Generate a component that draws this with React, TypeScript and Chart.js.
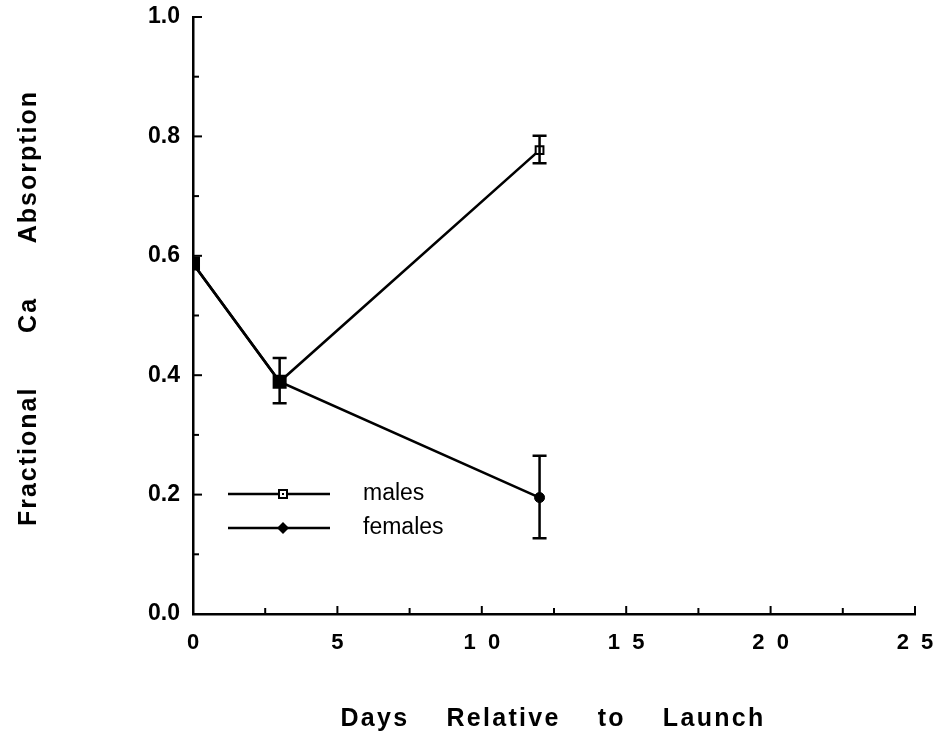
import React, { useEffect, useRef } from "react";
import { Chart, registerables } from "chart.js";

Chart.register(...registerables);

const xValues = [0, 3, 12];
const malesMean = [0.587, 0.389, 0.777];
const malesLow: (number | null)[] = [null, 0.353, 0.755];
const malesHigh: (number | null)[] = [null, 0.429, 0.801];
const femalesMean = [0.587, 0.389, 0.195];
const femalesLow: (number | null)[] = [null, null, 0.127];
const femalesHigh: (number | null)[] = [null, null, 0.265];
const xTitle = "Days    Relative    to    Launch";
const yTitle = "Fractional      Ca      Absorption";
const legendLabels = ["males", "females"];

const FONT = "'Liberation Sans', Arial, Helvetica, sans-serif";

const decorPlugin = {
  id: "decor",
  afterDatasetsDraw(chart: any) {
    const ctx = chart.ctx;
    const xs = chart.scales.x;
    const ys = chart.scales.y;
    ctx.save();
    ctx.strokeStyle = "#000";
    ctx.fillStyle = "#000";
    const drawErr = (lo: (number | null)[], hi: (number | null)[]) => {
      xValues.forEach((xv, i) => {
        const l = lo[i], h = hi[i];
        if (l == null || h == null) return;
        const px = xs.getPixelForValue(xv);
        const pl = ys.getPixelForValue(l);
        const ph = ys.getPixelForValue(h);
        ctx.lineWidth = 2.5;
        ctx.beginPath();
        ctx.moveTo(px, pl);
        ctx.lineTo(px, ph);
        ctx.moveTo(px - 7, pl);
        ctx.lineTo(px + 7, pl);
        ctx.moveTo(px - 7, ph);
        ctx.lineTo(px + 7, ph);
        ctx.stroke();
      });
    };
    drawErr(malesLow, malesHigh);
    drawErr(femalesLow, femalesHigh);
    ctx.restore();
  },
  afterDraw(chart: any) {
    const ctx = chart.ctx;
    const xs = chart.scales.x;
    const ys = chart.scales.y;
    const area = chart.chartArea;
    ctx.save();
    ctx.strokeStyle = "#000";
    ctx.fillStyle = "#000";
    ctx.lineWidth = 2;
    for (let v = 2.5; v <= 25.001; v += 2.5) {
      const major = Math.abs(v / 5 - Math.round(v / 5)) < 1e-6;
      const px = xs.getPixelForValue(v);
      ctx.beginPath();
      ctx.moveTo(px, area.bottom);
      ctx.lineTo(px, area.bottom - (major ? 8 : 6));
      ctx.stroke();
    }
    for (let v = 0.1; v <= 1.0001; v += 0.1) {
      const major = Math.abs(v / 0.2 - Math.round(v / 0.2)) < 1e-6;
      const py = ys.getPixelForValue(v);
      ctx.beginPath();
      ctx.moveTo(area.left, py);
      ctx.lineTo(area.left + (major ? 9 : 6), py);
      ctx.stroke();
    }
    // legend
    const lx1 = 228, lx2 = 330, mx = 283;
    const ly = [494, 528];
    ctx.lineWidth = 2.5;
    ly.forEach((y) => {
      ctx.beginPath();
      ctx.moveTo(lx1, y);
      ctx.lineTo(lx2, y);
      ctx.stroke();
    });
    ctx.fillStyle = "#fff";
    ctx.fillRect(mx - 5, ly[0] - 5, 10, 10);
    ctx.lineWidth = 2;
    ctx.strokeRect(mx - 4, ly[0] - 4, 8, 8);
    ctx.fillStyle = "#000";
    ctx.fillRect(mx - 1, ly[0] - 1, 2, 2);
    ctx.beginPath();
    ctx.moveTo(mx, ly[1] - 6);
    ctx.lineTo(mx + 6, ly[1]);
    ctx.lineTo(mx, ly[1] + 6);
    ctx.lineTo(mx - 6, ly[1]);
    ctx.closePath();
    ctx.fill();
    ctx.font = `23px ${FONT}`;
    ctx.textAlign = "left";
    ctx.textBaseline = "middle";
    ctx.fillText(legendLabels[0], 363, ly[0]);
    ctx.fillText(legendLabels[1], 363, ly[1]);
    // axis titles
    ctx.font = `bold 25px ${FONT}`;
    (ctx as any).letterSpacing = "2.3px";
    ctx.textAlign = "center";
    ctx.textBaseline = "alphabetic";
    ctx.fillText(xTitle, 553, 726);
    ctx.save();
    ctx.translate(36, 308);
    ctx.rotate(-Math.PI / 2);
    (ctx as any).letterSpacing = "2px";
    ctx.fillText(yTitle, 0, 0);
    ctx.restore();
    ctx.restore();
  },
};

export default function App() {
  const ref = useRef<HTMLCanvasElement | null>(null);
  useEffect(() => {
    if (!ref.current) return;
    const chart = new Chart(ref.current, {
      type: "line",
      data: {
        datasets: [
          {
            label: legendLabels[0],
            data: xValues.map((x, i) => ({ x, y: malesMean[i] })),
            borderColor: "#000",
            borderWidth: 2.6,
            pointStyle: "rect",
            pointRadius: [8.5, 8.5, 5.5],
            pointBackgroundColor: ["#000", "#000", "#fff"],
            pointBorderColor: "#000",
            pointBorderWidth: 2,
            tension: 0,
          },
          {
            label: legendLabels[1],
            data: xValues.map((x, i) => ({ x, y: femalesMean[i] })),
            borderColor: "#000",
            borderWidth: 2.6,
            pointStyle: "circle",
            pointRadius: [0, 0, 5],
            pointBackgroundColor: "#000",
            pointBorderColor: "#000",
            pointBorderWidth: 1,
            tension: 0,
          },
        ],
      },
      options: {
        animation: false,
        responsive: false,
        devicePixelRatio: 1,
        layout: { padding: { top: 17, right: 20, left: 0, bottom: 0 } },
        plugins: { legend: { display: false }, tooltip: { enabled: false } },
        scales: {
          x: {
            type: "linear",
            min: 0,
            max: 25,
            grid: { display: false, drawTicks: false },
            border: { display: true, color: "#000", width: 2.5 },
            ticks: {
              stepSize: 5,
              padding: 16,
              color: "#000",
              font: { family: FONT, size: 22, weight: "bold" },
              callback: (v: any) => String(v).split("").join("  "),
              maxRotation: 0,
            },
            afterFit: (s: any) => {
              s.height = 127;
              s.paddingLeft = 0;
              s.paddingRight = 0;
            },
          },
          y: {
            type: "linear",
            min: 0,
            max: 1,
            grid: { display: false, drawTicks: false },
            border: { display: true, color: "#000", width: 2.5 },
            ticks: {
              stepSize: 0.2,
              padding: 13,
              color: "#000",
              font: { family: FONT, size: 23, weight: "bold" },
              callback: (v: any) => Number(v).toFixed(1),
            },
            afterFit: (s: any) => {
              s.width = 193;
              s.paddingTop = 0;
              s.paddingBottom = 0;
            },
          },
        },
      },
      plugins: [decorPlugin],
    } as any);
    return () => chart.destroy();
  }, []);
  return (
    <div style={{ position: "absolute", left: 0, top: 0, width: 935, height: 741, background: "#fff" }}>
      <canvas ref={ref} width={935} height={741} style={{ width: 935, height: 741 }} />
    </div>
  );
}
